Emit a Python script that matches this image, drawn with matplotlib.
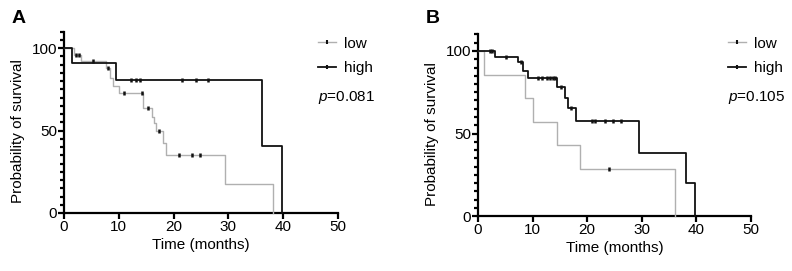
import matplotlib
matplotlib.use("Agg")
import matplotlib.pyplot as plt
from matplotlib.lines import Line2D
from matplotlib.ticker import MultipleLocator
import numpy as np

plt.rcParams["font.family"] = ["Liberation Sans", "DejaVu Sans"]
plt.rcParams["font.size"] = 11
plt.rcParams["mathtext.fontset"] = "custom"
plt.rcParams["mathtext.it"] = "Liberation Sans:italic"
plt.rcParams["mathtext.rm"] = "Liberation Sans"

# panel A: step times (months) and survival (%) after each step, censored times
a_low_t = [0, 1.9, 3.1, 7.7, 8.4, 8.9, 10.0, 14.5, 16.0, 16.4, 16.8, 18.1, 18.7, 29.3, 38.1]
a_low_s = [100, 96, 92, 87.7, 82, 77, 72.5, 63.4, 58.4, 54.3, 50, 42.2, 35, 17.6, 0]
a_low_c = [2.2, 2.7, 5.3, 8.0, 11.0, 14.3, 15.3, 17.3, 20.9, 23.4, 24.8]
a_high_t = [0, 1.4, 9.5, 36.2, 39.8]
a_high_s = [100, 90.9, 80.8, 40.4, 0]
a_high_c = [12.3, 13.1, 13.9, 21.5, 24.0, 26.2]
a_p = "0.081"

# panel B
b_low_t = [0, 1.1, 8.6, 10.0, 14.4, 18.7, 36.1]
b_low_s = [100, 85.7, 71.4, 57.1, 42.9, 28.6, 0]
b_low_c = [24.0]
b_high_t = [0, 3.1, 7.4, 8.2, 9.2, 14.4, 16.0, 16.4, 17.9, 29.4, 38.1, 39.7]
b_high_s = [100, 96.5, 93.5, 87.9, 83.8, 78.0, 71.3, 65.3, 57.6, 38.4, 19.8, 0]
b_high_c = [2.2, 2.5, 5.1, 7.8, 10.9, 11.8, 12.6, 13.2, 13.7, 14.1, 15.2, 17.1,
            20.8, 21.4, 23.3, 24.8, 26.1]
b_p = "0.105"

GRAY = "#b0b0b0"
BLACK = "#111111"


def surv_at(t, s, x):
    i = np.searchsorted(t, x, side="right") - 1
    return np.array(s)[i]


def km(ax, t, s, c, color, lw):
    ax.step(t, s, where="post", color=color, lw=lw, clip_on=False, zorder=3)
    ax.plot(c, surv_at(t, s, c), ls="none", marker="|", ms=3.5, mew=1.8,
            color=BLACK, zorder=4)


def panel(fig, rect, letter, low, high, p, leg_x, letter_x):
    ax = fig.add_axes(rect)
    km(ax, *low, GRAY, 1.0)
    km(ax, *high, BLACK, 1.3)
    ax.set_xlim(0, 50)
    ax.set_ylim(0, 110)
    ax.set_xticks([0, 10, 20, 30, 40, 50])
    ax.set_yticks([0, 50, 100])
    ax.yaxis.set_minor_locator(MultipleLocator(5))
    for sp in ["top", "right"]:
        ax.spines[sp].set_visible(False)
    for sp in ["left", "bottom"]:
        ax.spines[sp].set_linewidth(1.6)
    ax.tick_params(which="major", length=4.5, width=1.6, labelsize=11, pad=0.5)
    ax.tick_params(which="minor", length=3, width=1.6)
    ax.set_xlabel("Time (months)", fontsize=11)
    ax.set_ylabel("Probability of survival", fontsize=11)
    ax.xaxis.label.set_va("center")
    ax.yaxis.label.set_va("center")
    ax.xaxis.set_label_coords(0.5, -0.175)
    ax.yaxis.set_label_coords(-0.167, 0.45)

    handles = [Line2D([], [], color=GRAY, lw=1.0, marker="|", ms=3.5, mew=1.5, mec=BLACK),
               Line2D([], [], color=BLACK, lw=1.3, marker="|", ms=3.5, mew=1.5, mec=BLACK)]
    fig.legend(handles, ["low", "high"], loc="center left",
               bbox_to_anchor=(leg_x, 0.793), bbox_transform=fig.transFigure,
               frameon=False, borderpad=0, borderaxespad=0, handlelength=1.2,
               handletextpad=0.5, labelspacing=0.7, fontsize=11)
    fig.text(leg_x, 0.642, "$p$=" + p, ha="left", va="center", fontsize=11)
    fig.text(letter_x, 1 - 19 / 271, letter, ha="left", va="center",
             fontsize=14, fontweight="bold")
    return ax


fig = plt.figure(figsize=(7.92, 2.71), dpi=100)
panel(fig, [64 / 792, 1 - 213 / 271, 274 / 792, 181.5 / 271], "A",
      (a_low_t, a_low_s, a_low_c), (a_high_t, a_high_s, a_high_c), a_p,
      318 / 792, 12 / 792)
panel(fig, [478 / 792, 1 - 216 / 271, 273 / 792, 181.5 / 271], "B",
      (b_low_t, b_low_s, b_low_c), (b_high_t, b_high_s, b_high_c), b_p,
      728 / 792, 426 / 792)
fig.savefig("out.png", dpi=100)
